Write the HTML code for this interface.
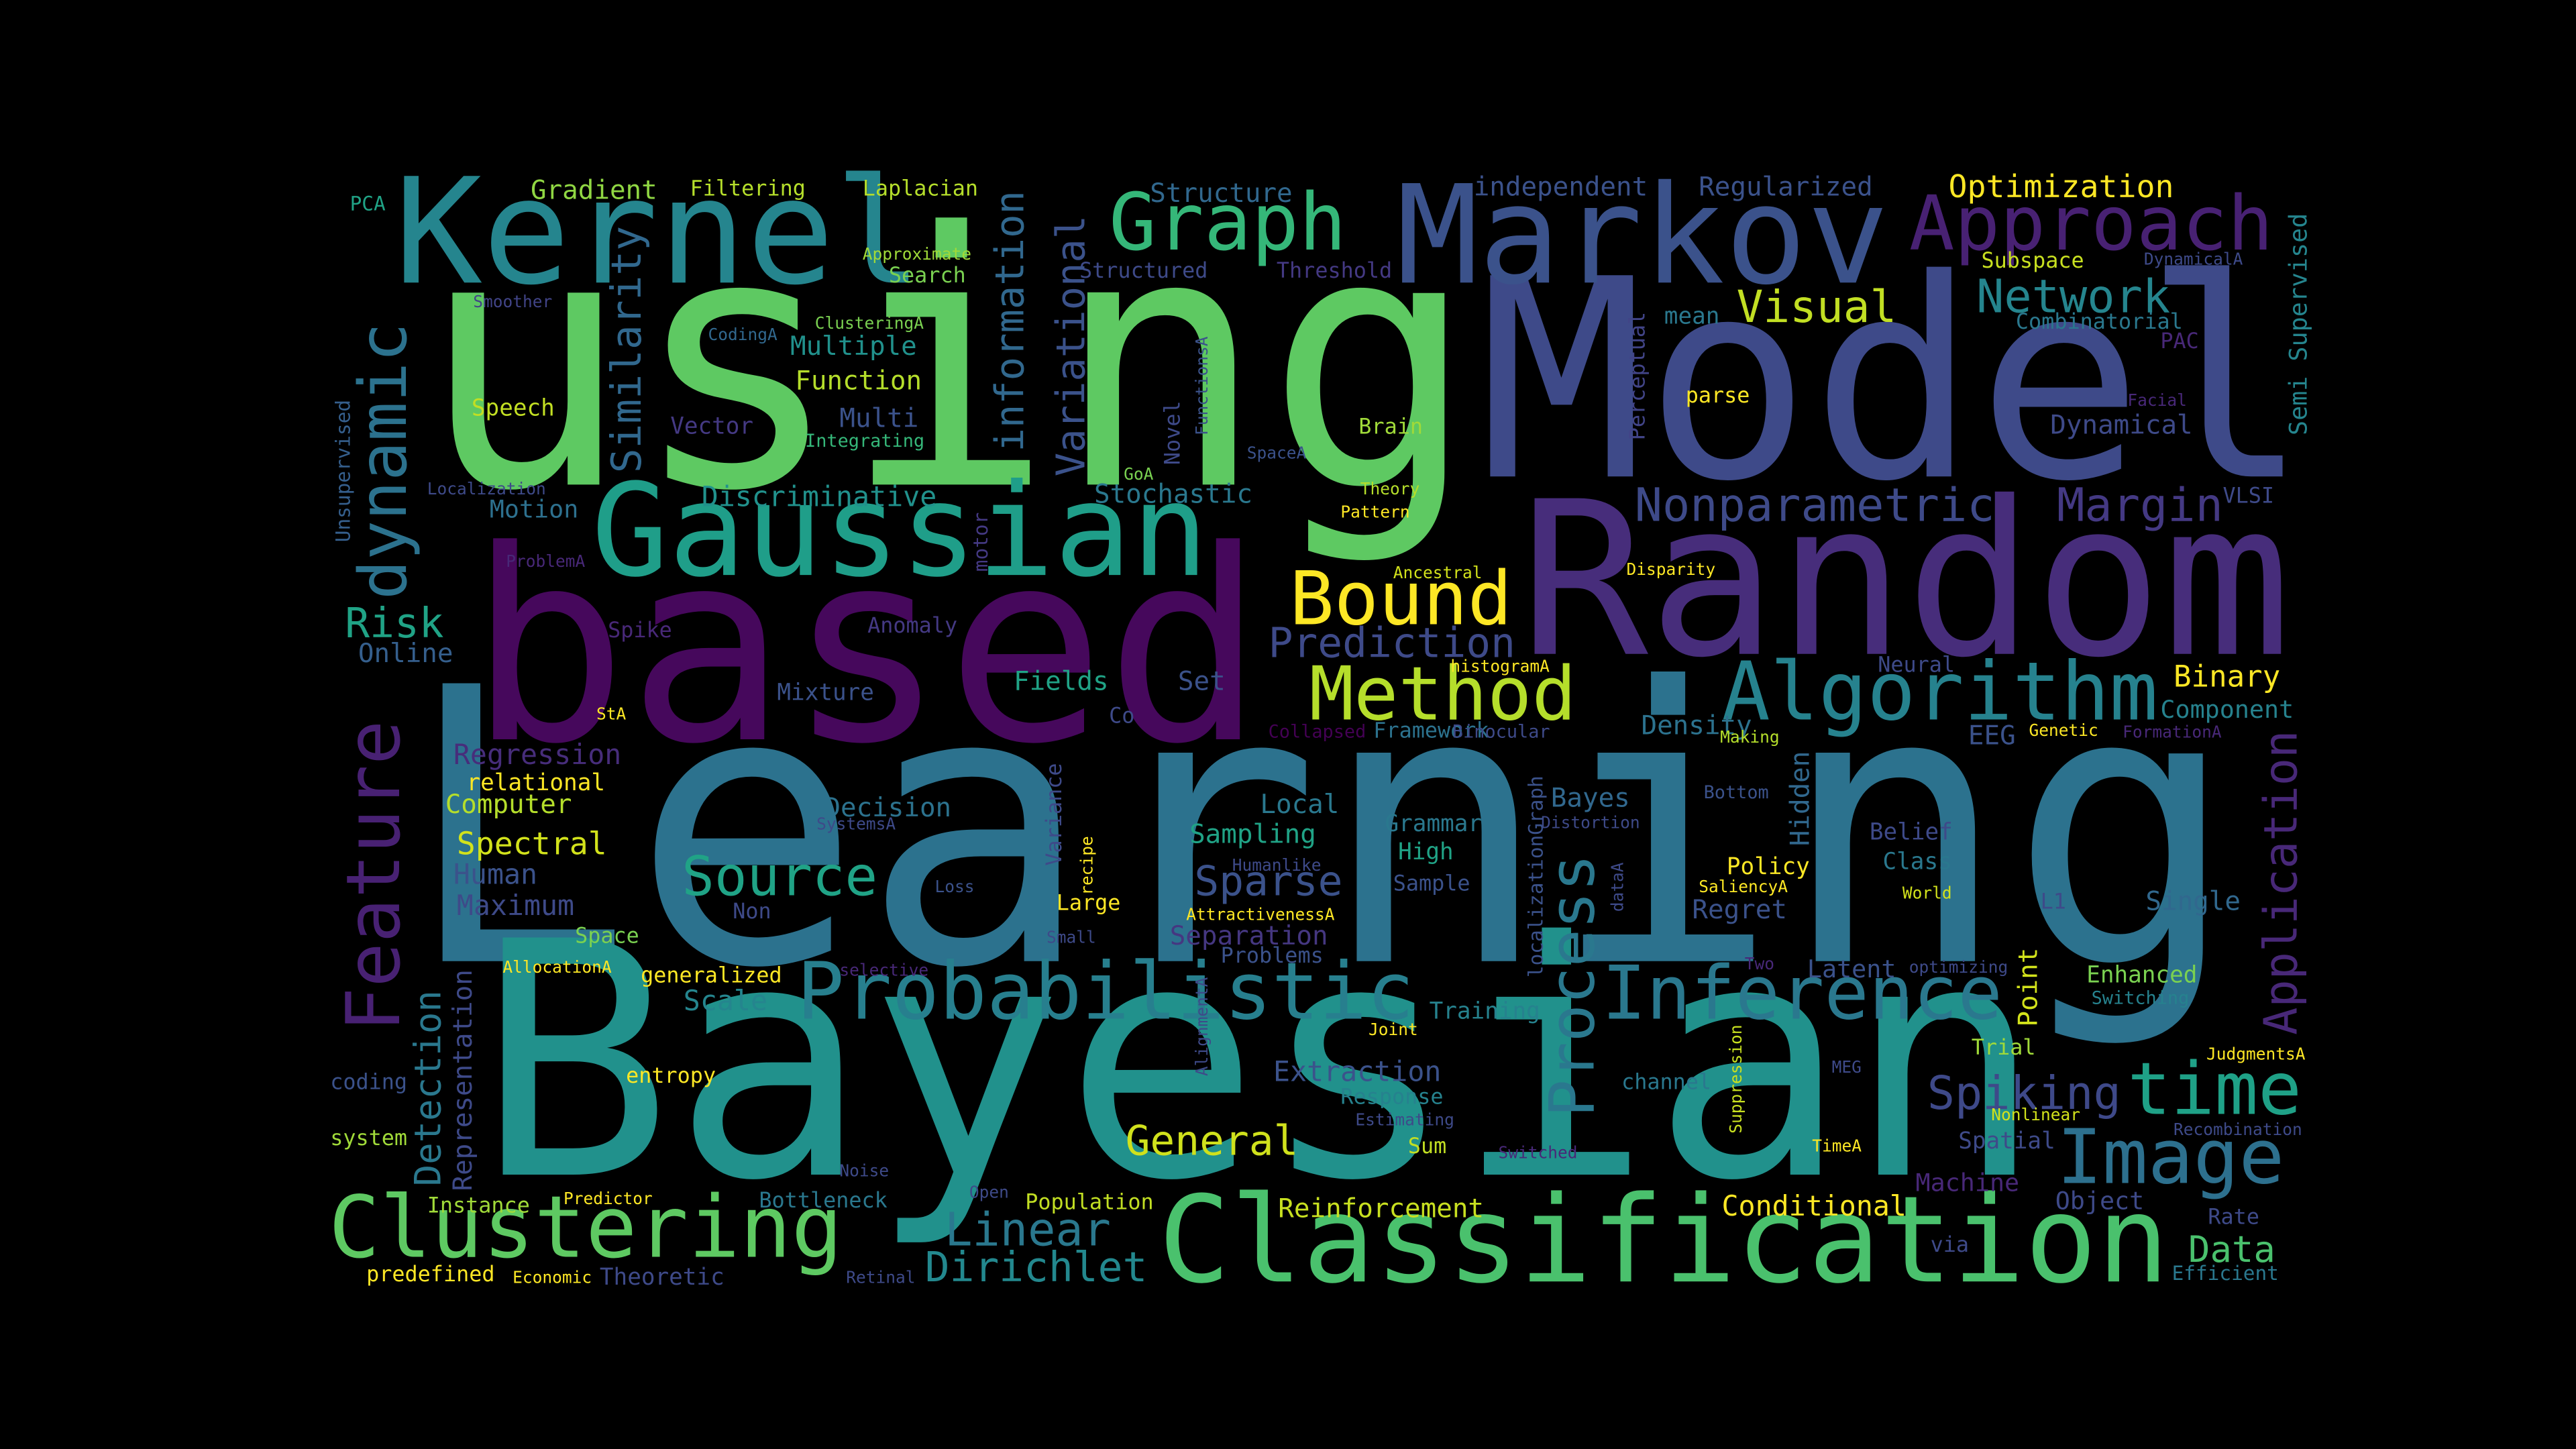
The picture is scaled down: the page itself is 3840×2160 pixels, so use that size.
<!DOCTYPE html>
<html><head><meta charset="utf-8"><title>Word Cloud</title>
<style>
html,body{margin:0;padding:0;background:#000;}
#wrap{width:3840px;height:2160px;background:#000;position:relative;overflow:hidden;}
svg text{font-family:"DejaVu Sans Mono","Liberation Mono",monospace;}
</style></head>
<body>
<div id="wrap">
<svg id="cloud" width="3840" height="2160" viewBox="0 0 3840 2160"></svg>
</div>
<script>
// words, font sizes (in 1568-wide reference units), colors, positions (baseline-left) and rotations
const words = ["Learning","Bayesian","using","Model","based","Random","Kernel","Markov","Gaussian","Classification","Clustering","Probabilistic","Inference","Algorithm","Approach","Graph","Method","Bound","Image","time","Network","Nonparametric","Margin","Spiking","Visual","Source","Sparse","Linear","Dirichlet","General","Prediction","Risk","Spectral","Reinforcement","Conditional","Optimization","Regularized","independent","Structure","Laplacian","Filtering","Gradient","PCA","Data","Binary","Component","Density","Extraction","Training","Bayes","Local","Sampling","Separation","Decision","Regression","Computer","relational","Human","Maximum","Space","generalized","Scale","entropy","Fields","Set","Mixture","Anomaly","Spike","Online","Motion","Discriminative","Stochastic","Function","Multiple","Multi","Vector","Speech","Search","Brain","parse","mean","Dynamical","Subspace","Combinatorial","Approximate","ClusteringA","CodingA","Smoother","Integrating","Localization","ProblemA","StA","Co","Collapsed","Framework","Binocular","histogramA","Ancestral","Disparity","Pattern","Theory","Threshold","Structured","SpaceA","GoA","Neural","EEG","Genetic","FormationA","Making","Bottom","Belief","Class","Policy","Regret","SaliencyA","World","Single","L1","Latent","optimizing","Two","Enhanced","Switching","Trial","JudgmentsA","MEG","Nonlinear","Recombination","channel","TimeA","Spatial","Machine","Object","Rate","via","Efficient","Sum","Switched","Estimating","Response","Problems","Joint","Grammar","High","Sample","Distortion","Humanlike","AttractivenessA","Large","Small","Loss","Non","selective","AllocationA","coding","system","Predictor","Instance","Noise","Bottleneck","Open","Population","predefined","Economic","Theoretic","Retinal","SystemsA","VLSI","PAC","Facial","DynamicalA","dynamic","Feature","Similarity","information","Variational","Process","Application","Detection","Representation","Semi Supervised","Unsupervised","Hidden","Point","Perceptual","localizationGraph","Variance","motor","Suppression","Novel","FunctionsA","recipe","dataA","AlignmentA"];
const sizes = [232,198,214,168,161,130,89,83,78,73,52,48,45,49,46,48,45,45,46,44,28,28,28,28,27,33,25,28,25,25,25,25,19,16,17,19,16,16,16,13,13,16,12,22,18,15,16,17,14,16,16,16,16,16,17,16,14,17,17,13,13,17,13,16,16,14,13,13,16,15,17,16,16,16,16,14,14,13,13,13,14,16,13,13,10,10,10,10,11,10,10,10,13,11,13,11,10,10,10,10,10,13,13,10,10,13,16,10,10,10,11,14,14,14,16,10,10,16,13,15,10,10,14,11,13,10,10,10,10,13,10,14,15,15,13,13,12,13,10,10,13,13,10,14,14,13,10,10,10,13,10,10,13,10,10,13,13,10,13,10,13,10,13,13,10,14,10,10,13,13,10,10,40,45,25,24,24,38,28,22,16,15,12,16,16,13,12,13,12,10,13,10,10,10,10];
const colors = ["#2c728e","#21918c","#5ec962","#3e4a89","#46085c","#472d7b","#25858e","#3b528b","#1f9e89","#4ac16d","#5ec962","#277f8e","#2a788e","#26828e","#482173","#35b779","#b5de2b","#fde725","#2d708e","#1fa187","#25858e","#3e4a89","#443983","#3e4989","#c2df23","#20a386","#3b528b","#2a788e","#23888e","#d0e11c","#3e4a89","#20a386","#d2e21b","#c8e020","#fde725","#fde725","#3b528b","#3b528b","#31688e","#b5de2b","#b5de2b","#90d743","#20a386","#4ac16d","#fde725","#26828e","#2c728e","#3b528b","#26828e","#31688e","#2a788e","#20a386","#453781","#2c728e","#472d7b","#b5de2b","#fde725","#3b528b","#3e4a89","#7ad151","#fde725","#25858e","#fde725","#20a386","#3b528b","#3b528b","#443983","#482878","#355f8d","#2d708e","#21918c","#2a788e","#b5de2b","#21918c","#3b528b","#443983","#c2df23","#7ad151","#a0da39","#fde725","#2a788e","#3e4a89","#c8e020","#2a788e","#a0da39","#7ad151","#31688e","#414487","#35b779","#3e4a89","#482878","#fde725","#3e4a89","#440154","#2c728e","#3e4a89","#fde725","#d2e21b","#fde725","#fde725","#b5de2b","#443983","#3e4a89","#3b528b","#7ad151","#3e4a89","#3b528b","#fde725","#482878","#b5de2b","#3b528b","#3e4a89","#2a788e","#fde725","#3b528b","#fde725","#d2e21b","#31688e","#3e4a89","#3b528b","#3e4a89","#482878","#7ad151","#26828e","#a0da39","#fde725","#3e4a89","#d2e21b","#3e4a89","#2a788e","#fde725","#3e4a89","#482878","#3e4a89","#3e4a89","#3e4a89","#2a788e","#c2df23","#482878","#3e4a89","#26828e","#3b528b","#fde725","#2a788e","#20a386","#3b528b","#3e4a89","#3e4a89","#fde725","#fde725","#3e4a89","#3b528b","#3e4a89","#482878","#fde725","#3b528b","#a0da39","#fde725","#a0da39","#3e4a89","#2a788e","#3e4a89","#c2df23","#fde725","#fde725","#3e4a89","#3e4a89","#3e4a89","#3e4a89","#482878","#482878","#3e4a89","#2c728e","#482173","#31688e","#31688e","#3b528b","#2a788e","#482878","#2a788e","#3e4a89","#25858e","#355f8d","#31688e","#d2e21b","#414487","#3b528b","#3e4a89","#443983","#c8e020","#3e4a89","#3b528b","#fde725","#3e4a89","#3e4a89"];
const xs = [245,290,255,900,285,925,240,850,360,705,200,485,975,1048,1162,675,797,785,1252,1295,1203,995,1252,1173,1057,415,727,575,563,685,772,210,278,778,1048,1186,1034,897,700,525,420,323,213,1332,1323,1315,999,775,870,944,767,724,712,502,276,271,284,276,278,350,390,416,381,617,717,473,528,370,218,298,427,666,484,481,511,408,287,541,827,1026,1013,1248,1206,1227,525,496,431,288,490,260,308,363,675,772,836,884,883,848,990,816,828,777,657,759,684,1143,1198,1235,1292,1047,1037,1138,1146,1051,1030,1034,1158,1306,1242,1100,1162,1062,1270,1273,1200,1343,1115,1212,1323,987,1103,1192,1166,1251,1344,1175,1322,857,912,825,816,743,833,843,851,848,938,750,722,643,637,569,446,511,306,201,201,343,260,511,462,590,624,223,312,365,515,497,1353,1315,1295,1305,247,243,390,623,660,970,1398,268,287,1404,213,1101,1240,1001,939,646,601,1060,718,735,665,988,735];
const ys = [585,715,295,290,450,398,172,172,350,780,765,620,620,438,152,152,438,380,720,678,190,317,317,675,196,545,545,758,780,703,400,388,520,741,740,120,119,119,123,119,119,121,128,768,418,437,447,658,620,491,495,513,575,497,465,495,481,538,557,574,598,615,659,420,420,426,385,388,403,315,308,306,237,216,260,264,253,172,264,245,197,264,163,200,158,200,207,187,272,301,345,438,440,449,449,449,409,352,350,315,301,169,169,279,292,409,453,448,449,452,486,511,529,532,559,543,547,554,553,595,592,590,598,611,642,645,653,682,691,663,701,699,725,736,745,762,779,702,705,685,672,586,630,506,523,542,504,530,560,554,574,543,559,594,592,663,697,733,738,716,735,729,736,780,781,782,781,505,306,212,247,161,365,628,288,275,290,680,630,722,725,265,330,515,625,268,595,527,348,690,283,265,545,555,655];
const rots = [0,0,0,0,0,0,0,0,0,0,0,0,0,0,0,0,0,0,0,0,0,0,0,0,0,0,0,0,0,0,0,0,0,0,0,0,0,0,0,0,0,0,0,0,0,0,0,0,0,0,0,0,0,0,0,0,0,0,0,0,0,0,0,0,0,0,0,0,0,0,0,0,0,0,0,0,0,0,0,0,0,0,0,0,0,0,0,0,0,0,0,0,0,0,0,0,0,0,0,0,0,0,0,0,0,0,0,0,0,0,0,0,0,0,0,0,0,0,0,0,0,0,0,0,0,0,0,0,0,0,0,0,0,0,0,0,0,0,0,0,0,0,0,0,0,0,0,0,0,0,0,0,0,0,0,0,0,0,0,0,0,0,0,0,0,0,0,0,0,0,0,0,-90,-90,-90,-90,-90,-90,-90,-90,-90,-90,-90,-90,-90,-90,-90,-90,-90,-90,-90,-90,-90,-90,-90];

const SCALE = 3840 / 1568;
const svg = document.getElementById('cloud');
const NS = 'http://www.w3.org/2000/svg';
for (let i = 0; i < words.length; i++) {
  const t = document.createElementNS(NS, 'text');
  const x = xs[i] * SCALE, y = ys[i] * SCALE;
  t.setAttribute('x', x.toFixed(1));
  t.setAttribute('y', y.toFixed(1));
  t.setAttribute('font-size', (sizes[i] * SCALE).toFixed(1));
  t.setAttribute('fill', colors[i]);
  if (rots[i] !== 0) t.setAttribute('transform', 'rotate(' + rots[i] + ' ' + x.toFixed(1) + ' ' + y.toFixed(1) + ')');
  t.textContent = words[i];
  
  
  svg.appendChild(t);
}
</script>
</body></html>
